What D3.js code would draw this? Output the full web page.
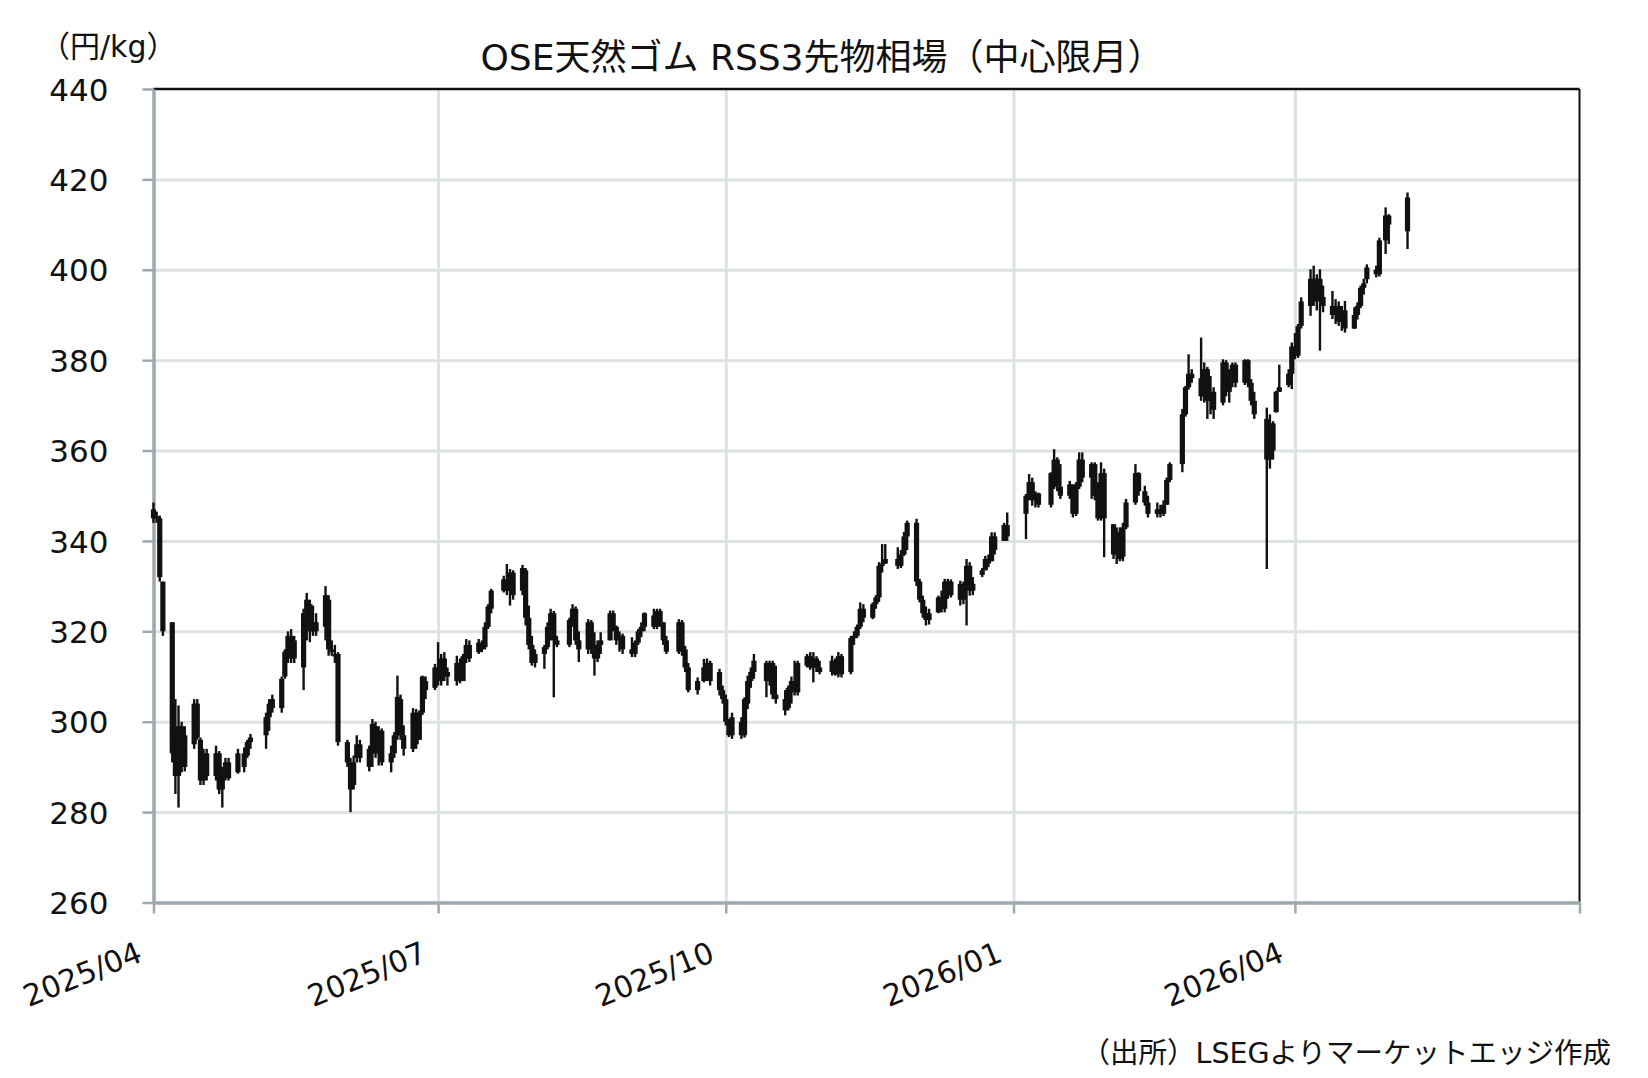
<!DOCTYPE html>
<html>
<head>
<meta charset="utf-8">
<title>OSE天然ゴム RSS3先物相場</title>
<script src="https://cdn.jsdelivr.net/npm/d3@7"></script>
<style>
  body { margin: 0; background: #ffffff; }
  text { font-family: "DejaVu Sans", "Noto Sans CJK JP", sans-serif; fill: #111111; }
</style>
</head>
<body>
<div id="chart"></div>
<script>
// Javascript for candlestick chart

// Trading days (one per candle)
var tradeDates = [
  "2025-04-01","2025-04-02","2025-04-03","2025-04-04","2025-04-07","2025-04-08","2025-04-09","2025-04-10","2025-04-11","2025-04-14","2025-04-15","2025-04-16","2025-04-17","2025-04-18","2025-04-21","2025-04-22","2025-04-23","2025-04-24","2025-04-25","2025-04-28","2025-04-30",
  "2025-05-01","2025-05-02","2025-05-07","2025-05-08","2025-05-09","2025-05-12","2025-05-13","2025-05-14","2025-05-15","2025-05-16","2025-05-19","2025-05-20","2025-05-21","2025-05-22","2025-05-23","2025-05-26","2025-05-27","2025-05-28","2025-05-29","2025-05-30",
  "2025-06-02","2025-06-03","2025-06-04","2025-06-05","2025-06-06","2025-06-09","2025-06-10","2025-06-11","2025-06-12","2025-06-13","2025-06-16","2025-06-17","2025-06-18","2025-06-19","2025-06-20","2025-06-23","2025-06-24","2025-06-25","2025-06-26","2025-06-27","2025-06-30",
  "2025-07-01","2025-07-02","2025-07-03","2025-07-04","2025-07-07","2025-07-08","2025-07-09","2025-07-10","2025-07-11","2025-07-14","2025-07-15","2025-07-16","2025-07-17","2025-07-18","2025-07-22","2025-07-23","2025-07-24","2025-07-25","2025-07-28","2025-07-29","2025-07-30","2025-07-31",
  "2025-08-01","2025-08-04","2025-08-05","2025-08-06","2025-08-07","2025-08-08","2025-08-12","2025-08-13","2025-08-14","2025-08-15","2025-08-18","2025-08-19","2025-08-20","2025-08-21","2025-08-22","2025-08-25","2025-08-26","2025-08-27","2025-08-28","2025-08-29",
  "2025-09-01","2025-09-02","2025-09-03","2025-09-04","2025-09-05","2025-09-08","2025-09-09","2025-09-10","2025-09-11","2025-09-12","2025-09-16","2025-09-17","2025-09-18","2025-09-19","2025-09-22","2025-09-24","2025-09-25","2025-09-26","2025-09-29","2025-09-30",
  "2025-10-01","2025-10-02","2025-10-03","2025-10-06","2025-10-07","2025-10-08","2025-10-09","2025-10-10","2025-10-14","2025-10-15","2025-10-16","2025-10-17","2025-10-20","2025-10-21","2025-10-22","2025-10-23","2025-10-24","2025-10-27","2025-10-28","2025-10-29","2025-10-30","2025-10-31",
  "2025-11-04","2025-11-05","2025-11-06","2025-11-07","2025-11-10","2025-11-11","2025-11-12","2025-11-13","2025-11-14","2025-11-17","2025-11-18","2025-11-19","2025-11-20","2025-11-21","2025-11-25","2025-11-26","2025-11-27","2025-11-28",
  "2025-12-01","2025-12-02","2025-12-03","2025-12-04","2025-12-05","2025-12-08","2025-12-09","2025-12-10","2025-12-11","2025-12-12","2025-12-15","2025-12-16","2025-12-17","2025-12-18","2025-12-19","2025-12-22","2025-12-23","2025-12-24","2025-12-25","2025-12-26","2025-12-29","2025-12-30",
  "2026-01-05","2026-01-06","2026-01-07","2026-01-08","2026-01-09","2026-01-13","2026-01-14","2026-01-15","2026-01-16","2026-01-19","2026-01-20","2026-01-21","2026-01-22","2026-01-23","2026-01-26","2026-01-27","2026-01-28","2026-01-29","2026-01-30",
  "2026-02-02","2026-02-03","2026-02-04","2026-02-05","2026-02-06","2026-02-09","2026-02-10","2026-02-12","2026-02-13","2026-02-16","2026-02-17","2026-02-18","2026-02-19","2026-02-20","2026-02-24","2026-02-25","2026-02-26","2026-02-27",
  "2026-03-02","2026-03-03","2026-03-04","2026-03-05","2026-03-06","2026-03-09","2026-03-10","2026-03-11","2026-03-12","2026-03-13","2026-03-16","2026-03-17","2026-03-18","2026-03-19","2026-03-23","2026-03-24","2026-03-25","2026-03-26","2026-03-27","2026-03-30","2026-03-31",
  "2026-04-01","2026-04-02","2026-04-03","2026-04-06","2026-04-07","2026-04-08","2026-04-09","2026-04-10","2026-04-13","2026-04-14","2026-04-15","2026-04-16","2026-04-17","2026-04-20","2026-04-21","2026-04-22","2026-04-23","2026-04-24","2026-04-27","2026-04-28","2026-04-30",
  "2026-05-01","2026-05-07"
];

// Open prices (yen/kg)
var openPrices = [
  347,345.5,345,331,322,296,288,299,290,295,304,296,287,293,288,293,285,289,291,288.8,293,
  292.5,295.5,297,301,303,303,310,315,319,314,312,324,326,320,322,321,327,316,315,315,
  295.5,291,286,292,295,290,293,299,293,298,291,293,297,305,297,294,302,296,302,309,307.5,
  312,309,314,310,309,313,309,314,317,315.4,317,316.5,321,325,329,331.5,329,333,329,333.5,323,317,
  313,315,316.5,321,324,318,317,322.5,325,318,316,322,316,314,317,318,324,321,318,319,
  316,315,317.5,320,321,323.5,321,324.5,322,318,315.5,322,316,312,307,309,312,313,311,307,
  305,300,297,300,297,304,309,311,313,309,313,306,305,303,307.5,309,306.5,312.4,314.5,312,314,312,
  311,313.5,310.5,314.5,311,318.5,319,321,325,323,326,327.5,334.5,335,336,334.5,337,341,
  344,331,327,324,322.5,324.2,327.5,325,331,328,330.5,327,330,334.5,329,332.5,333.5,336,335.5,341,340,343.5,
  346,350,353,349,350.5,348,355,358,352,350,352.5,346,352,358,354,357,350,345,355,
  343.7,337,342,336.5,343,348.5,355,351,348.5,346,347,346,348,353.5,357,368,374,377,
  376,372,378,371,373,370.6,379.5,373,376,379,375,380,375,371,367,358,366,368.5,373,374.5,377,
  383,381,387.6,392,398,393,398,394,392,390,392,388.5,391,387,390,392,396,397.9,400,399,406.5,
  412,408.5
];

// High prices
var highPrices = [
  348.5,346.5,345.6,331,322,305,303.6,300,299,305,305,296.5,294,294,294.7,293.5,290,292,292,294,294.3,
  296,297.3,302,305,306,310,316,320,320.5,319,325,328.5,327,325.7,324,330,328,318,317,315.4,
  296,292,292.5,297,296,294.7,300.6,300,299,298.5,294.7,297.7,310.2,306,299.2,303,302.8,302.5,310.2,310,312.8,
  317.6,315,315.4,312,314.6,314,315,318.3,318,318.3,318,322,326,329.4,332.3,334.9,333.8,333.5,334.7,334,325.7,319,
  316,317,322,325,324.5,319,323,326,325.5,320,322.7,322.5,319.8,318,319.8,324.6,324.6,321.3,320,319.5,
  318.7,318,320.5,322,324.2,325,325,325,322,319,322.7,322.5,316.8,313,309.8,313.9,314,313.5,311.7,308,
  306,300.6,302,301,305.4,310.2,312,315,313.5,313.5,313.5,312.4,307,308,310,313.5,313.5,315,315.4,315.4,314.5,313.5,
  314.6,314,315.4,315,319,320,321.5,326.4,326,326.4,328,335.3,339.3,339.3,338.6,338,342,344.5,
  344.9,331.6,327.9,325.5,325,327.9,329,331.6,331.6,331.5,331.2,331,336,335.3,332,334,336.7,337,341.9,341.9,344,346.3,
  350.4,354.8,354,351,350.7,355.2,360.3,358.5,357,353.3,352.5,353,359.6,359.6,357.4,357.4,353,357.4,356,
  343.7,343,343,344,349.3,357,355.2,352.2,350,348.5,348,349,354,357.4,369.2,374.3,381.3,378,
  385,379.5,378.5,376.5,374,380.2,380,378,379.5,379.5,380.2,380.2,375.8,373,369.5,368,366.5,373.2,379,378,383.9,
  386,388,393.9,400.1,400.9,399,400.1,396.5,395.3,393.5,393,392,393.1,391.7,392.8,396.5,398,401.2,400.9,407.1,413.8,
  412.3,417.1
];

// Low prices
var lowPrices = [
  344,344,331,319,291,284,281,288.8,289,294,296,286,286,287,287,284,281,287,287,288.5,288.8,
  292,294,294,298,302,302,309.5,313,313,313,307,318,317.6,319,319,318,314.6,314.6,313,294.7,
  290,280,285,291,291,289,290,292,290.3,290.3,288.8,292,296,296,292.5,293.3,294,296,301.5,305,307,
  308,308,309,308,308,308.5,309,313,313.2,315,315.4,316,320.5,324,328.6,328,325.7,327,328,321.3,316,312.4,
  312,311.7,316,318,305.4,316.5,316.5,321,317,313.2,315,315,310.2,313.2,315,318,320,317,315.5,315,
  314.3,314.3,317,318.7,320,320.5,320.5,321,317,315,315,314.6,311,306.5,306,308.7,309,308,305.8,304,
  299.2,296.6,296.2,296.2,296.5,302.8,307.5,309.5,305.4,308,305,304,301.4,302.5,304,305.8,305.8,312,311.5,308.7,311,310.5,
  310.2,310.2,309.8,309.8,310.5,317,318.5,320.5,322,322.7,325,326.5,333,334.9,333.8,334,336.7,338,
  330,326.4,323,321.3,321.5,324,324.2,324.2,327.2,327.5,325.7,326,321.3,327.9,328,332,333.5,334.2,335.5,337,340,340,
  340.4,349,347.8,347.4,347.4,347.4,351.5,351,349.3,349.3,345.2,345.5,351.5,353,349.3,349,344.5,344.5,336.4,
  336,334.9,335.5,335.5,342.6,348,350,347.8,345.2,345.2,345.2,345.5,348,353,355.2,367.5,373.5,375,
  371,370.6,367,368,367,370,372,370.6,374,374,374.5,374,370,367,333.8,356,358,368.4,373,374,373.6,
  380.2,380.5,387,389.8,392,391,382.1,390.6,389.1,388,387.6,386.5,386.1,386.9,389,391.5,394.5,397,398.3,398.5,403.5,
  405.7,404.6
];

// Close prices
var closePrices = [
  345,345,332,320,293,288,299,290,297,304,296.5,287,293,288,293,285,289,291,287.5,293,290,
  295.5,296.5,301,304,305,309.5,315.5,319,314,318,324,327,320,322,320,328,316,315.4,315,295.5,
  291,285,291,295,292,294,299.5,293,298,291,293,297,305.5,297,294,302,295,302,310,307,312,
  309,314,310,311,313,309,314.5,317,314,317.5,316,321,325.5,329,331.5,329,333,328,334,323,317,313,
  315,316.5,321,324,318,317,322.5,325,318,316,322,316,314,317,318,324,321,318,319,316,
  315,317.5,320,321,324,321,324.5,322,318,315.5,322,316,312,307,309,312,313,309,307,305,
  300,297,301,297,305,309,311,313.5,309,313,306,305,302.5,307.5,309,306.5,313,314.5,312,314,312,311,
  313.5,310.5,314.5,310.5,318.5,319,321,325,323,326,327.5,334.5,335,336,334.5,337,341,344,
  331,327,324,322.5,324,327.5,325,331,328,331,327,330,334.5,329,330.5,333.5,336,335,341,338,343.5,341,
  350,353,349,350.5,348,355,358,352,350,352.5,346,352,358,354,357,350,345,355,345,
  337,342,336,343,348.5,355,351,348.5,346,347,346,348,353.5,357,368,374,377,376,
  372,378,371,373,369,379.5,373,376,379,375,380,375,371,368,358,366,360,373,374,377,383,
  381,387.5,393,398,393,398,394,392,390,392,388.5,391,387,390,392,396,397,400.5,399,406.5,412,
  410,416
];

// Axis ticks
var yTicks = [260, 280, 300, 320, 340, 360, 380, 400, 420, 440];
var xTickLabels = ["2025/04", "2025/07", "2025/10", "2026/01", "2026/04", "2026/07"];

// Texts
var chartTitle = "OSE天然ゴム RSS3先物相場（中心限月）";
var unitLabel = "（円/kg）";
var sourceNote = "（出所）LSEGよりマーケットエッジ作成";

// Global Variables
var svg, x_scale, y_scale, data;

// Width and height of element
var width = 1648;
var height = 1078;

// Margin (plot area)
var margin = {
  top: 89,
  left: 153.5,
  right: 68.5,
  bottom: 175.5
};

var plotWidth = width - margin.left - margin.right;
var plotHeight = height - margin.top - margin.bottom;

var axisGrey = "#9ea9ad";
var gridGrey = "#dde3e4";

createChart();

function createChart() {

  var parseDay = d3.timeParse("%Y-%m-%d");
  var parseMonth = d3.timeParse("%Y/%m");

  // build rows for the candles
  data = tradeDates.map(function(d, i) {
    return {
      date: parseDay(d),
      open: openPrices[i],
      high: highPrices[i],
      low: lowPrices[i],
      close: closePrices[i]
    };
  });

  var xTickDates = xTickLabels.map(parseMonth);

  svg = d3.select("#chart")
    .append("svg")
    .attr("width", width)
    .attr("height", height);

  svg.append("rect")
    .attr("width", width)
    .attr("height", height)
    .attr("fill", "#ffffff");

  var g = svg.append("g")
    .attr("transform", "translate(" + margin.left + "," + margin.top + ")");

  x_scale = d3.scaleTime()
    .domain([xTickDates[0], xTickDates[xTickDates.length - 1]])
    .range([0, plotWidth]);

  y_scale = d3.scaleLinear()
    .domain([yTicks[0], yTicks[yTicks.length - 1]])
    .range([plotHeight, 0]);

  // Add gridlines
  g.append("g")
    .attr("class", "grid")
    .call(d3.axisLeft(y_scale)
      .tickValues(yTicks.slice(1, -1))
      .tickSize(-plotWidth)
      .tickFormat(""))
    .call(function(s) { s.select(".domain").remove(); })
    .selectAll("line")
    .attr("stroke", gridGrey)
    .attr("stroke-width", 3);

  g.append("g")
    .attr("class", "grid")
    .attr("transform", "translate(0," + plotHeight + ")")
    .call(d3.axisBottom(x_scale)
      .tickValues(xTickDates.slice(1, -1))
      .tickSize(-plotHeight)
      .tickFormat(""))
    .call(function(s) { s.select(".domain").remove(); })
    .selectAll("line")
    .attr("stroke", gridGrey)
    .attr("stroke-width", 3);

  // Top and right border
  g.append("line")
    .attr("x1", 0).attr("x2", plotWidth)
    .attr("y1", 0).attr("y2", 0)
    .attr("stroke", "#111").attr("stroke-width", 2.5);

  g.append("line")
    .attr("x1", plotWidth).attr("x2", plotWidth)
    .attr("y1", 0).attr("y2", plotHeight)
    .attr("stroke", "#111").attr("stroke-width", 2);

  // Add the y axis
  var yaxis = g.append("g")
    .attr("class", "y axis")
    .call(d3.axisLeft(y_scale)
      .tickValues(yTicks)
      .tickSize(11)
      .tickSizeOuter(0)
      .tickPadding(34));

  yaxis.select(".domain").attr("stroke", axisGrey).attr("stroke-width", 3.5);
  yaxis.selectAll(".tick line").attr("stroke", axisGrey).attr("stroke-width", 2.5);
  yaxis.selectAll(".tick text")
    .attr("dy", "0.36em")
    .style("font-size", "31px")
    .attr("fill", "#111");

  // Add the x axis
  var xaxis = g.append("g")
    .attr("class", "x axis")
    .attr("transform", "translate(0," + plotHeight + ")")
    .call(d3.axisBottom(x_scale)
      .tickValues(xTickDates)
      .tickSize(11)
      .tickSizeOuter(0)
      .tickFormat(function(d, i) {
        return i < xTickLabels.length - 1 ? xTickLabels[i] : "";
      }));

  xaxis.select(".domain").attr("stroke", axisGrey).attr("stroke-width", 3.5);
  xaxis.selectAll(".tick line").attr("stroke", axisGrey).attr("stroke-width", 2.5);
  xaxis.selectAll(".tick text")
    .attr("x", 0)
    .attr("y", 0)
    .attr("dy", 0)
    .attr("transform", "translate(-10,58) rotate(-22)")
    .style("text-anchor", "end")
    .style("font-size", "30px")
    .attr("fill", "#111");

  drawCandles(g);

  // Chart title
  svg.append("text")
    .attr("x", 822)
    .attr("y", 70)
    .style("text-anchor", "middle")
    .style("font-size", "36px")
    .text(chartTitle);

  // Unit label
  svg.append("text")
    .attr("x", 40)
    .attr("y", 57)
    .style("font-size", "30px")
    .text(unitLabel);

  // Source
  svg.append("text")
    .attr("x", 1611)
    .attr("y", 1063)
    .style("text-anchor", "end")
    .style("font-size", "28.5px")
    .text(sourceNote);

} // End of createChart

// Populate candles
function drawCandles(g) {

  var bodyWidth = 5.2;

  var candles = g.append("g")
    .attr("class", "candles")
    .selectAll("g")
    .data(data)
    .enter()
    .append("g");

  // wicks
  candles.append("line")
    .attr("x1", function(d) { return x_scale(d.date); })
    .attr("x2", function(d) { return x_scale(d.date); })
    .attr("y1", function(d) { return y_scale(d.high); })
    .attr("y2", function(d) { return y_scale(d.low); })
    .attr("stroke", "#111")
    .attr("stroke-width", 2.4);

  // bodies
  candles.append("rect")
    .attr("x", function(d) { return x_scale(d.date) - bodyWidth / 2; })
    .attr("y", function(d) { return y_scale(Math.max(d.open, d.close)); })
    .attr("width", bodyWidth)
    .attr("height", function(d) {
      return Math.max(2.5, Math.abs(y_scale(d.open) - y_scale(d.close)));
    })
    .attr("fill", "#111");

} // End of drawCandles
</script>
</body>
</html>
